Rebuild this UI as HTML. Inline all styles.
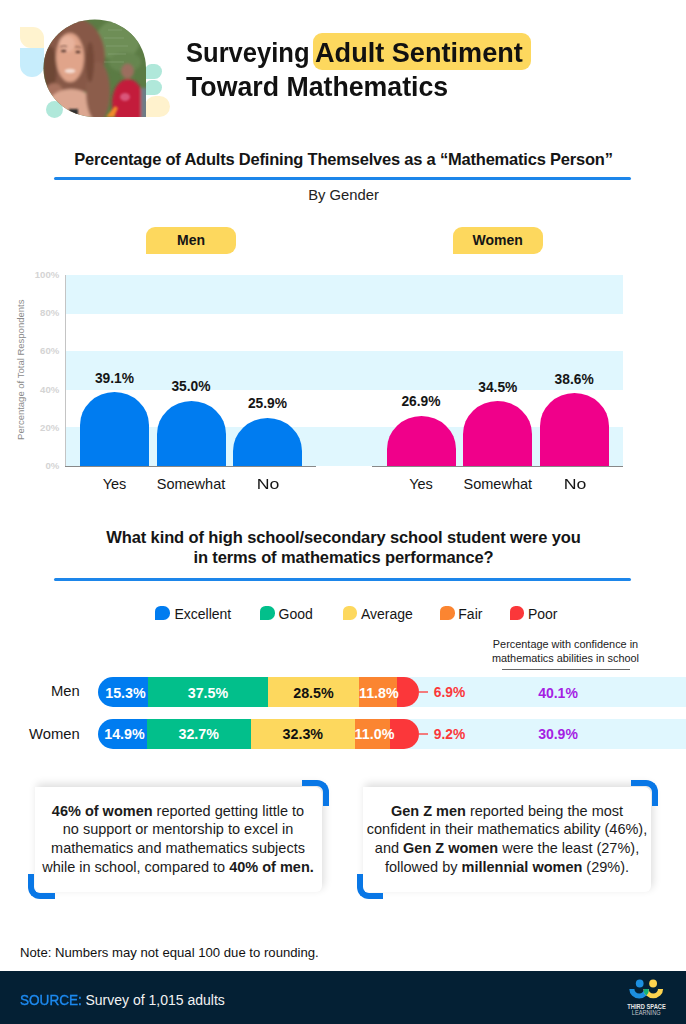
<!DOCTYPE html>
<html><head><meta charset="utf-8">
<style>
*{margin:0;padding:0;box-sizing:border-box}
html,body{width:686px;height:1024px;background:#fff;overflow:hidden}
body{position:relative;font-family:"Liberation Sans",sans-serif;color:#151515}
.a{position:absolute}
.t{position:absolute;white-space:nowrap;line-height:1}
.c{text-align:center}
.sx{transform-origin:0 0}
.b{font-weight:bold}
/* photo */
#photo{position:absolute;left:43px;top:20px;width:103px;height:97px;border-radius:51px 51px 0 51px/49px 49px 0 49px;overflow:hidden;background:#4a6a35}
#photo div{position:absolute}
/* highlight */
.hl{background:#fdd85e;border-radius:9px}
.band{background:#e0f7fe}
.bar{border-radius:34.5px 34.5px 0 0/33px 33px 0 0}
.bl{background:#007cf0}
.pk{background:#f0008a}
.pill{background:#fdd85e;border-radius:9px 9px 9px 0}
.mk{width:14.7px;height:14.5px;border-radius:5.5px 6.5px 6.5px 0}
.tick{font-size:9.6px;font-weight:bold;color:#d4d4d4;text-align:right;width:40px}
.box{background:#fff;border-radius:0 7px 6px 6px;box-shadow:2px -3px 8px rgba(0,0,0,.14)}
.brk{border:6.5px solid #0977e6;width:26.6px;height:25.8px}
.tr{border-left:none;border-bottom:none;border-radius:0 12px 0 0}
.bl2{border-right:none;border-top:none;border-radius:0 0 0 12px}
.ct{font-size:14.5px;line-height:18.7px;text-align:center;color:#1b1b1b}
</style></head><body>

<!-- decorative shapes -->
<div class="a" style="left:20px;top:26.5px;width:24px;height:21px;background:#fff3cf;border-radius:0 11px 0 11px"></div>
<div class="a" style="left:20px;top:47.5px;width:24px;height:29.5px;background:#c7edfc;border-radius:0 0 12px 12px"></div>
<div class="a" style="left:45.7px;top:100.7px;width:17.3px;height:17.3px;background:#b0e8da;border-radius:50%"></div>
<div class="a" style="left:145px;top:63.6px;width:17px;height:15px;background:#b0e8da;border-radius:7px 8px 8px 0"></div>
<div class="a" style="left:145px;top:79.8px;width:17px;height:15px;background:#b0e8da;border-radius:7px 8px 8px 0"></div>
<div class="a" style="left:145px;top:96.1px;width:24.6px;height:21.2px;background:#fff2cd;border-radius:11px 11px 11px 0"></div>

<svg class="a" style="left:0;top:0" width="180" height="130" viewBox="0 0 180 130">
 <defs>
  <clipPath id="pc"><ellipse cx="94.75" cy="68.25" rx="51.25" ry="48.75"/><rect x="94.75" y="68.25" width="51.25" height="48.75"/></clipPath>
  <filter id="bl1" x="-20%" y="-20%" width="140%" height="140%"><feGaussianBlur stdDeviation="1.6"/></filter>
  <filter id="bl2" x="-20%" y="-20%" width="140%" height="140%"><feGaussianBlur stdDeviation="0.8"/></filter>
 </defs>
 <g clip-path="url(#pc)">
  <rect x="40" y="15" width="110" height="105" fill="#5b7b44"/>
  <g filter="url(#bl1)">
   <ellipse cx="118" cy="40" rx="22" ry="20" fill="#6e8e57"/>
   <ellipse cx="125" cy="62" rx="16" ry="10" fill="#668650"/>
   <ellipse cx="74" cy="56" rx="31" ry="38" fill="#875847"/>
   <ellipse cx="50" cy="68" rx="7" ry="22" fill="#6e4636"/>
   <ellipse cx="54" cy="92" rx="9" ry="9" fill="#a8725e"/>
   <ellipse cx="71" cy="113" rx="27" ry="24" fill="#dca791"/>
   <ellipse cx="98" cy="92" rx="12" ry="30" fill="#8c5d4c"/>
   <ellipse cx="90" cy="62" rx="4" ry="20" fill="#744838"/>
   <ellipse cx="70" cy="57.5" rx="14" ry="24.5" fill="#e0a48a"/>
   <ellipse cx="67" cy="44" rx="8" ry="8" fill="#e8b39c"/>
  </g>
  <g filter="url(#bl2)">
   <ellipse cx="63.6" cy="51" rx="2.8" ry="1.3" fill="#5a3a33"/>
   <ellipse cx="78" cy="52" rx="2.6" ry="1.3" fill="#5a3a33"/>
   <path d="M60 47 Q64 45 67 46.5 M75 47 Q79 46 81 48" stroke="#6b4538" stroke-width="1" fill="none"/>
  </g>
  <g filter="url(#bl1)">
   <ellipse cx="128" cy="103" rx="16" ry="24" fill="#c31a3a"/>
   <ellipse cx="127.5" cy="71" rx="6.5" ry="7.5" fill="#9c6e5e"/>
   <rect x="141" y="88" width="8" height="32" fill="#6d7c86"/>
  </g>
  <g filter="url(#bl2)">
   <rect x="69" y="109" width="9" height="9" fill="#2d2d2d"/>
   <path d="M106 117 L115 106 L118 108 L114 117 Z" fill="#f08a2c"/>
   <ellipse cx="125" cy="97" rx="5" ry="4" fill="#d9567a"/>
   <ellipse cx="70" cy="71" rx="5.5" ry="2.2" fill="#f4dcd2"/>
  </g>
  <g stroke="#a9c39a" stroke-width="0.7" fill="none" opacity="0.45">
   <path d="M108 30 h14 M104 38 h20 M106 46 h22 M108 54 h18 M104 62 h20"/>
  </g>
 </g>
</svg>

<!-- title -->
<div class="a hl" style="left:313.2px;top:32.9px;width:217.6px;height:36.8px"></div>
<div class="t b sx" style="left:186px;top:38.6px;font-size:28px;color:#111;transform:scaleX(0.913)">Surveying</div>
<div class="t b sx" style="left:315px;top:38.6px;font-size:28px;color:#111;transform:scaleX(0.968)">Adult Sentiment</div>
<div class="t b sx" style="left:185.5px;top:72.8px;font-size:28px;color:#111;transform:scaleX(0.954)">Toward Mathematics</div>

<!-- section 1 heading -->
<div class="t b c" style="left:0;width:687px;top:150.8px;font-size:16.5px;letter-spacing:-0.21px;color:#151515">Percentage of Adults Defining Themselves as a “Mathematics Person”</div>
<div class="a" style="left:53.9px;top:176.9px;width:577px;height:2.9px;border-radius:1.5px;background:#1d86ea"></div>
<div class="t c" style="left:0;width:687px;top:187.6px;font-size:14.8px;color:#222">By Gender</div>

<div class="a pill" style="left:146px;top:227px;width:90px;height:27px"></div>
<div class="t b c" style="left:146px;width:90px;top:232.9px;font-size:14px">Men</div>
<div class="a pill" style="left:452.6px;top:227px;width:90px;height:27px"></div>
<div class="t b c" style="left:452.6px;width:90px;top:232.9px;font-size:14px">Women</div>

<!-- chart bands -->
<div class="a band" style="left:65.5px;top:274.6px;width:557.5px;height:39.1px"></div>
<div class="a band" style="left:65.5px;top:351px;width:557.5px;height:39.1px"></div>
<div class="a band" style="left:65.5px;top:427px;width:557.5px;height:39.1px"></div>
<div class="a" style="left:65px;top:274.6px;width:1px;height:192px;background:#c4c4c4"></div>
<div class="a" style="left:65px;top:465.7px;width:251px;height:1px;background:#888"></div>
<div class="a" style="left:372px;top:465.7px;width:251px;height:1px;background:#888"></div>

<div class="t tick" style="left:19.3px;top:269.6px">100%</div>
<div class="t tick" style="left:19.3px;top:307.9px">80%</div>
<div class="t tick" style="left:19.3px;top:346.2px">60%</div>
<div class="t tick" style="left:19.3px;top:384.5px">40%</div>
<div class="t tick" style="left:19.3px;top:422.8px">20%</div>
<div class="t tick" style="left:19.3px;top:461.1px">0%</div>
<div class="t c" style="left:-50px;width:142px;top:364.5px;font-size:9.5px;color:#8a8a8a;transform:rotate(-90deg)">Percentage of Total Respondents</div>

<!-- men bars -->
<div class="a bar bl" style="left:80px;top:392px;width:69px;height:74px"></div>
<div class="a bar bl" style="left:156.5px;top:400.8px;width:69px;height:65.2px"></div>
<div class="a bar bl" style="left:233px;top:417.6px;width:69px;height:48.4px"></div>
<div class="t b c" style="left:64.5px;width:100px;top:371.8px;font-size:13.8px">39.1%</div>
<div class="t b c" style="left:141px;width:100px;top:380.0px;font-size:13.8px">35.0%</div>
<div class="t b c" style="left:217.5px;width:100px;top:397.2px;font-size:13.8px">25.9%</div>
<!-- women bars -->
<div class="a bar pk" style="left:386.5px;top:415.9px;width:69px;height:50.1px"></div>
<div class="a bar pk" style="left:463.3px;top:401.3px;width:69px;height:64.7px"></div>
<div class="a bar pk" style="left:539.6px;top:393px;width:69px;height:73px"></div>
<div class="t b c" style="left:371px;width:100px;top:394.7px;font-size:13.8px">26.9%</div>
<div class="t b c" style="left:447.8px;width:100px;top:381.1px;font-size:13.8px">34.5%</div>
<div class="t b c" style="left:524.1px;width:100px;top:372.8px;font-size:13.8px">38.6%</div>

<div class="t c" style="left:64.5px;width:100px;top:476.8px;font-size:14.5px">Yes</div>
<div class="t c" style="left:141px;width:100px;top:476.8px;font-size:14.5px">Somewhat</div>
<div class="t c" style="left:217.5px;width:100px;top:476.8px;font-size:14.5px;transform:scaleX(1.22)">No</div>
<div class="t c" style="left:371px;width:100px;top:476.8px;font-size:14.5px">Yes</div>
<div class="t c" style="left:447.8px;width:100px;top:476.8px;font-size:14.5px">Somewhat</div>
<div class="t c" style="left:524.7px;width:100px;top:476.8px;font-size:14.5px;transform:scaleX(1.22)">No</div>

<!-- section 2 -->
<div class="t b c" style="left:0;width:687px;top:528.4px;font-size:16.5px;line-height:19.4px;letter-spacing:-0.12px">What kind of high school/secondary school student were you<br>in terms of mathematics performance?</div>
<div class="a" style="left:53.9px;top:577.9px;width:577px;height:2.9px;border-radius:1.5px;background:#1d86ea"></div>

<div class="a mk" style="left:155px;top:605.7px;background:#007cf0"></div>
<div class="t" style="left:174.4px;top:606.6px;font-size:14px">Excellent</div>
<div class="a mk" style="left:260px;top:605.7px;background:#02bf8b"></div>
<div class="t" style="left:278.6px;top:606.6px;font-size:14px">Good</div>
<div class="a mk" style="left:342.6px;top:605.7px;background:#fdd85e"></div>
<div class="t" style="left:361px;top:606.6px;font-size:14px">Average</div>
<div class="a mk" style="left:440.4px;top:605.7px;background:#fb8531"></div>
<div class="t" style="left:458.3px;top:606.6px;font-size:14px">Fair</div>
<div class="a mk" style="left:509.7px;top:605.7px;background:#fb373a"></div>
<div class="t" style="left:527.9px;top:606.6px;font-size:14px">Poor</div>

<div class="t c" style="left:465.5px;width:200px;top:637.4px;font-size:10.9px;line-height:14px;color:#222">Percentage with confidence in<br>mathematics abilities in school</div>
<div class="a" style="left:501.6px;top:668.5px;width:128px;height:1px;background:#666"></div>

<!-- stacked -->
<div class="a band" style="left:400px;top:677px;width:286px;height:30px"></div>
<div class="a band" style="left:400px;top:719px;width:286px;height:30px"></div>

<div class="a" style="left:98px;top:677px;width:321px;height:30px;border-radius:15px;overflow:hidden;display:flex">
  <div style="width:50px;background:#007cf0"></div><div style="width:120px;background:#02bf8b"></div><div style="width:91px;background:#fdd85e"></div><div style="width:38px;background:#fb8531"></div><div style="flex:1;background:#fb373a"></div>
</div>
<div class="a" style="left:98px;top:719px;width:321px;height:30px;border-radius:15px;overflow:hidden;display:flex">
  <div style="width:48.5px;background:#007cf0"></div><div style="width:104.5px;background:#02bf8b"></div><div style="width:103.6px;background:#fdd85e"></div><div style="width:35.4px;background:#fb8531"></div><div style="flex:1;background:#fb373a"></div>
</div>

<div class="t" style="left:0;width:79.8px;text-align:right;top:683.7px;font-size:14.8px">Men</div>
<div class="t" style="left:0;width:79.8px;text-align:right;top:726.7px;font-size:14.8px">Women</div>

<div class="t b c" style="left:98px;width:55px;top:685.5px;font-size:14.3px;color:#fff">15.3%</div>
<div class="t b c" style="left:148px;width:120px;top:685.5px;font-size:14.3px;color:#fff">37.5%</div>
<div class="t b c" style="left:268px;width:91px;top:685.5px;font-size:14.3px;color:#111">28.5%</div>
<div class="t b c" style="left:359px;width:38px;top:685.5px;font-size:14.3px;color:#fff">11.8%</div>
<div class="t b c" style="left:98px;width:53px;top:727.1px;font-size:14.3px;color:#fff">14.9%</div>
<div class="t b c" style="left:146.5px;width:104.5px;top:727.1px;font-size:14.3px;color:#fff">32.7%</div>
<div class="t b c" style="left:251px;width:103.6px;top:727.1px;font-size:14.3px;color:#111">32.3%</div>
<div class="t b c" style="left:354.6px;width:35.4px;top:727.1px;font-size:14.3px;color:#fff">11.0%</div>

<div class="a" style="left:419px;top:691.2px;width:8.5px;height:1.5px;background:#f37b7c"></div>
<div class="a" style="left:419px;top:733.2px;width:8.5px;height:1.5px;background:#f37b7c"></div>
<div class="t b" style="left:433.8px;top:685.9px;font-size:13.8px;color:#fb373a">6.9%</div>
<div class="t b" style="left:433.8px;top:727.5px;font-size:13.8px;color:#fb373a">9.2%</div>
<div class="t b c" style="left:508px;width:100px;top:685.7px;font-size:14px;color:#a51ee3">40.1%</div>
<div class="t b c" style="left:508px;width:100px;top:727.3px;font-size:14px;color:#a51ee3">30.9%</div>

<!-- callouts -->
<div class="a box" style="left:34.7px;top:786.9px;width:287.5px;height:105.3px"></div>
<div class="a brk tr" style="left:302.4px;top:780.2px"></div>
<div class="a brk bl2" style="left:28px;top:873.7px"></div>
<div class="a ct" style="left:34px;width:288px;top:801.6px"><b>46% of women</b> reported getting little to<br>no support or mentorship to excel in<br>mathematics and mathematics subjects<br>while in school, compared to <b>40% of men.</b></div>

<div class="a box" style="left:363px;top:786.9px;width:288px;height:105.3px"></div>
<div class="a brk tr" style="left:631.1px;top:780.2px"></div>
<div class="a brk bl2" style="left:356.8px;top:873.7px"></div>
<div class="a ct" style="left:363px;width:288px;top:801.6px"><b>Gen Z men</b> reported being the most<br>confident in their mathematics ability (46%),<br>and <b>Gen Z women</b> were the least (27%),<br>followed by <b>millennial women</b> (29%).</div>

<!-- footer -->
<div class="t" style="left:20px;top:946.3px;font-size:13.15px;color:#111">Note: Numbers may not equal 100 due to rounding.</div>
<div class="a" style="left:0;top:971px;width:686px;height:53px;background:#042034"></div>
<div class="t sx" style="left:19.5px;top:992.1px;font-size:15px;color:#1d8af0;-webkit-text-stroke:0.4px #1d8af0;transform:scaleX(0.905)">SOURCE:</div>
<div class="t" style="left:85.5px;top:992.9px;font-size:14px;color:#f2f2f2">Survey of 1,015 adults</div>

<!-- logo -->
<svg class="a" style="left:626px;top:978px" width="42" height="40" viewBox="0 0 42 40">
  <defs><clipPath id="bu"><path d="M3.3 11 A9.9 9.4 0 0 0 23.1 11 L18 11 A4.8 4.6 0 0 1 8.4 11 Z"/></clipPath></defs>
  <circle cx="13.7" cy="5.5" r="3.9" fill="#1c8fe0"/>
  <circle cx="27.1" cy="5.5" r="3.9" fill="#fdd34f"/>
  <path d="M3.3 11 A9.9 9.4 0 0 0 23.1 11 L18 11 A4.8 4.6 0 0 1 8.4 11 Z" fill="#1c8fe0"/>
  <path d="M17.4 11 A9.85 9.3 0 0 0 37.1 11 L32 11 A4.75 4.5 0 0 1 22.5 11 Z" fill="#fdd34f"/>
  <path clip-path="url(#bu)" d="M17.4 11 A9.85 9.3 0 0 0 37.1 11 L32 11 A4.75 4.5 0 0 1 22.5 11 Z" fill="#13b07a"/>
  <text x="20.6" y="30.7" font-size="7" font-weight="bold" fill="#e6e6e6" text-anchor="middle" font-family="Liberation Sans" textLength="38.5" lengthAdjust="spacingAndGlyphs">THIRD SPACE</text>
  <text x="20.2" y="36.8" font-size="7" fill="#c2c6cc" text-anchor="middle" font-family="Liberation Sans" textLength="28.9" lengthAdjust="spacingAndGlyphs">LEARNING</text>
</svg>

</body></html>
